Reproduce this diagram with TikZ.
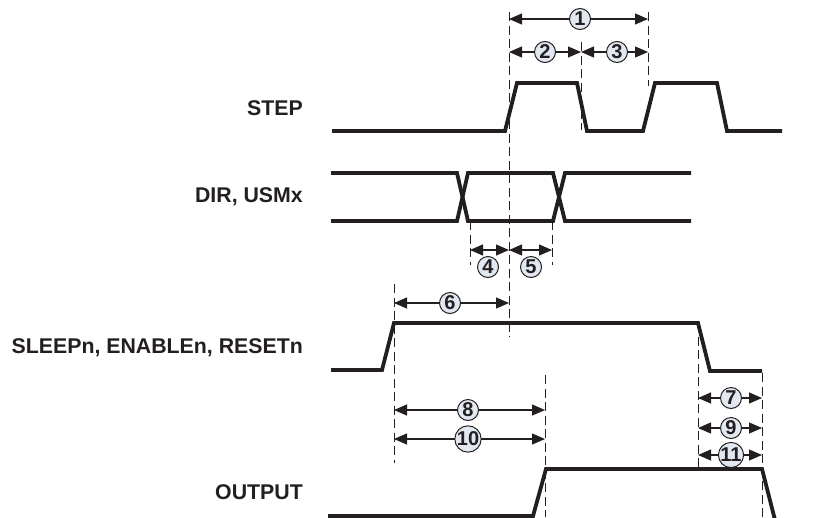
\documentclass[tikz,border=0pt]{standalone}
\usepackage{fontspec}
\setmainfont{Liberation Sans}
\usetikzlibrary{arrows.meta}
\definecolor{circfill}{HTML}{E2E8F2}
\definecolor{ink}{HTML}{231F20}
\begin{document}
\begin{tikzpicture}[x=1pt,y=-1pt,
  wave/.style={line width=3.8pt,ink,line join=miter},
  guide/.style={ink,line width=1pt,dash pattern=on 9pt off 4.5pt},
  dim/.style={ink,line width=1.1pt,{Triangle[length=13pt,width=11pt]}-{Triangle[length=13pt,width=11pt]}},
  num/.style={circle,draw=ink,line width=1pt,fill=circfill,inner sep=0pt,minimum size=21pt,font=\bfseries\fontsize{20}{20}\selectfont,text=ink},
  sig/.style={anchor=east,font=\bfseries\fontsize{21.3}{23}\selectfont,text=ink,inner sep=0pt}]
\useasboundingbox (0,0) rectangle (813,517);
% signal labels
\node[sig] (lstep) at (303,108) {STEP};
\node[sig] (ldir) at (303,197) {DIR, USMx};
\node[sig] (lsleep) at (303,348) {SLEEPn, ENABLEn, RESETn};
\node[sig] (lout) at (303,492) {OUTPUT};
% waveforms
\draw[wave] (332,131) -- (505,131) -- (517,83) -- (577,83) -- (587,131) -- (643,131) -- (655,83) -- (717,83) -- (727,131) -- (782,131);
\draw[wave] (331,173) -- (457,173) -- (468,221) -- (553,221) -- (565,173) -- (691,173);
\draw[wave] (331,221) -- (457,221) -- (468,173) -- (553,173) -- (565,221) -- (691,221);
\draw[wave] (331,370) -- (382,370) -- (394,323) -- (698,323) -- (710,371) -- (762,371);
\draw[wave] (328,516) -- (533,516) -- (546,469) -- (762,469) -- (775,520);
% guide coordinates
\coordinate (g1t) at (509,12);  \coordinate (g1b) at (509,337);
\coordinate (g2t) at (581,42);  \coordinate (g2b) at (581,130);
\coordinate (g3t) at (648,12);  \coordinate (g3b) at (648,86);
\coordinate (g4t) at (470,221); \coordinate (g4b) at (470,265);
\coordinate (g5t) at (552,221); \coordinate (g5b) at (552,265);
\coordinate (g6t) at (394,284); \coordinate (g6b) at (394,463);
\coordinate (g7t) at (545,375); \coordinate (g7b) at (545,517);
\coordinate (g8t) at (698,323); \coordinate (g8b) at (698,467);
\coordinate (g9t) at (762,373); \coordinate (g9b) at (762,517);
\foreach \i in {1,...,9} \draw[guide] (g\i t) -- (g\i b);
% dimension arrows
\coordinate (a1l) at (509,19); \coordinate (a1r) at (648,19);
\coordinate (a2l) at (509,52); \coordinate (a2r) at (581,52);
\coordinate (a3l) at (581,52); \coordinate (a3r) at (648,52);
\coordinate (a4l) at (470,250); \coordinate (a4r) at (509,250);
\coordinate (a5l) at (509,250); \coordinate (a5r) at (552,250);
\coordinate (a6l) at (394,303); \coordinate (a6r) at (509,303);
\coordinate (a8l) at (394,410); \coordinate (a8r) at (545,410);
\coordinate (a10l) at (394,439); \coordinate (a10r) at (545,439);
\coordinate (a7l) at (698,398); \coordinate (a7r) at (762,398);
\coordinate (a9l) at (698,428); \coordinate (a9r) at (762,428);
\coordinate (a11l) at (698,455); \coordinate (a11r) at (762,455);
\foreach \i in {1,2,3,4,5,6,7,8,9,10,11} \draw[dim] (a\i l) -- (a\i r);
% numbered circles
\node[num] (n1) at (580,19) {1};
\node[num] (n2) at (545,52) {2};
\node[num] (n3) at (617,52) {3};
\node[num] (n4) at (488,267) {4};
\node[num] (n5) at (531,267) {5};
\node[num] (n6) at (450,303) {6};
\node[num] (n8) at (468,410) {8};
\node[num] (n10) at (468,439) {10};
\node[num] (n7) at (731,398) {7};
\node[num] (n9) at (731,428) {9};
\node[num] (n11) at (731,455) {11};
\end{tikzpicture}
\end{document}
